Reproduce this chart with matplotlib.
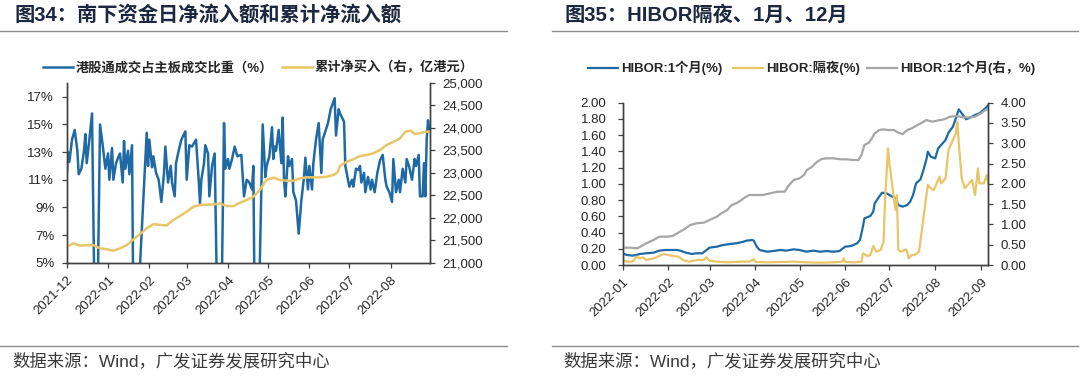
import matplotlib
matplotlib.use("Agg")
import matplotlib.pyplot as plt
import matplotlib.dates as mdates
from matplotlib.lines import Line2D
from matplotlib.ticker import FuncFormatter, MultipleLocator
import pandas as pd

plt.rcParams['font.family'] = ['Liberation Sans', 'Noto Sans CJK SC', 'DejaVu Sans']

# ---------------- 图34 data (days after 2021-12-01) ----------------
sb_day = [0, 1, 2, 4, 6, 8, 9, 11, 13, 14, 15, 17, 19, 21, 23, 25, 27, 29, 31, 32,
          34, 35, 37, 39, 40, 42, 43, 44, 46, 47, 49, 50, 53, 60, 61, 62, 64, 65, 67, 69,
          71, 73, 74, 76, 78, 79, 81, 82, 84, 86, 89, 90, 92, 94, 97, 99, 100, 101, 103, 104,
          106, 107, 109, 111, 113, 116, 118, 119, 121, 122, 124, 126, 128, 131, 133, 135, 137, 139, 140, 141,
          144, 147, 149, 150, 152, 154, 155, 156, 157, 159, 161, 162, 163, 164, 166, 167, 169, 170, 172, 174,
          176, 178, 179, 181, 182, 184, 185, 187, 189, 191, 192, 194, 196, 198, 201, 202, 204, 205, 208, 209,
          210, 212, 214, 215, 217, 219, 220, 221, 223, 224, 226, 228, 229, 231, 233, 235, 237, 239, 240, 242,
          244, 245, 247, 249, 250, 252, 254, 255, 257, 259, 261, 262, 264, 265, 267, 268, 269, 270, 271, 272]
sb_share = [11.1, 13.0, 12.3, 13.9, 14.6, 13.1, 11.4, 11.8, 13.1, 14.3, 12.2, 13.9, 15.8, 1.0, 1.0, 15.0, 13.5, 11.8, 12.9, 11.0,
            13.3, 11.0, 12.2, 12.7, 12.9, 10.8, 13.8, 11.8, 13.1, 11.4, 13.5, 1.0, 1.0, 14.4, 12.0, 13.9, 11.9, 12.7, 11.5, 11.0,
            9.4, 11.5, 13.4, 10.8, 12.0, 10.8, 9.8, 12.2, 13.1, 13.9, 14.5, 11.0, 13.5, 13.4, 13.9, 11.0, 9.3, 11.0, 12.2, 13.5,
            12.9, 9.8, 12.0, 12.9, 1.0, 1.0, 15.1, 11.8, 12.5, 11.8, 12.5, 13.4, 12.7, 12.8, 9.8, 11.0, 10.8, 10.3, 12.0, 1.0,
            1.0, 15.0, 11.2, 12.0, 12.7, 14.8, 12.5, 13.4, 13.1, 14.6, 12.2, 15.5, 11.0, 9.8, 12.7, 12.0, 12.5, 10.1, 9.5, 7.1,
            9.5, 11.2, 12.6, 10.3, 12.0, 10.3, 12.2, 13.9, 15.1, 11.5, 13.9, 14.5, 15.1, 16.1, 16.9, 14.2, 16.1, 15.8, 15.2, 12.0,
            11.5, 10.5, 11.0, 10.5, 11.8, 11.7, 12.0, 10.8, 11.5, 10.1, 11.2, 10.3, 11.0, 10.1, 11.5, 12.4, 12.8, 11.0, 10.5, 10.1,
            9.4, 12.5, 10.1, 11.0, 10.1, 11.8, 10.8, 12.5, 11.9, 11.0, 12.5, 12.0, 12.8, 9.8, 9.8, 12.2, 9.8, 13.9, 15.3, 14.6]

cum_day = [0, 5, 10, 15, 20, 25, 30, 35, 40, 45, 50, 55, 60, 65, 70, 75, 80, 85, 90, 95,
           100, 105, 110, 115, 120, 125, 130, 135, 140, 145, 148, 150, 155, 160, 165, 170, 175, 180, 185, 190,
           195, 200, 203, 205, 210, 215, 220, 225, 230, 235, 240, 245, 250, 254, 258, 261, 265, 269, 272]
cum_buy = [21356, 21432, 21380, 21390, 21390, 21320, 21300, 21267, 21320, 21390, 21520, 21640, 21765, 21860, 21840, 21830, 21950, 22040, 22135, 22245,
           22285, 22290, 22300, 22320, 22260, 22260, 22335, 22395, 22470, 22620, 22767, 22840, 22892, 22840, 22825, 22825, 22878, 22900, 22900, 22900,
           22915, 22952, 23003, 23153, 23248, 23300, 23375, 23397, 23435, 23509, 23620, 23694, 23769, 23917, 23939, 23865, 23880, 23917, 23917]

# ---------------- 图35 data (days after 2022-01-01) ----------------
h1m_day = [0, 3, 7, 12, 16, 21, 25, 29, 32, 37, 39, 43, 47, 50, 54, 57, 59, 64, 68, 73,
           77, 82, 84, 88, 89, 91, 93, 98, 102, 107, 111, 116, 120, 125, 129, 134, 138, 143, 147, 151,
           155, 159, 161, 163, 164, 168, 170, 171, 174, 176, 179, 183, 185, 187, 190, 193, 195, 197, 199, 202,
           204, 206, 207, 209, 212, 214, 216, 219, 221, 224, 226, 228, 230, 233, 236, 239, 242, 246, 248]
h1m = [0.144, 0.123, 0.115, 0.136, 0.144, 0.152, 0.177, 0.185, 0.185, 0.185, 0.177, 0.152, 0.136, 0.144, 0.144, 0.185, 0.214, 0.226, 0.246, 0.259,
       0.267, 0.287, 0.30, 0.308, 0.30, 0.226, 0.185, 0.164, 0.172, 0.185, 0.177, 0.193, 0.185, 0.164, 0.177, 0.164, 0.172, 0.164, 0.172, 0.226,
       0.234, 0.267, 0.308, 0.472, 0.575, 0.604, 0.657, 0.76, 0.842, 0.891, 0.883, 0.842, 0.821, 0.739, 0.719, 0.739, 0.78, 0.862, 1.006, 1.055,
       1.17, 1.30, 1.396, 1.335, 1.314, 1.437, 1.478, 1.54, 1.63, 1.704, 1.807, 1.918, 1.869, 1.795, 1.82, 1.848, 1.869, 1.93, 1.97]

hon_day = [0, 3, 6, 8, 9, 12, 14, 16, 21, 24, 28, 31, 34, 38, 41, 45, 48, 51, 55, 57,
           59, 64, 71, 80, 86, 89, 90, 98, 107, 116, 125, 134, 143, 149, 150, 151, 157, 162, 163, 166,
           168, 170, 172, 175, 177, 178, 180, 181, 183, 185, 186, 187, 189, 192, 193, 194, 196, 198, 201, 203,
           205, 207, 209, 211, 213, 215, 216, 219, 221, 223, 226, 227, 228, 230, 232, 235, 237, 239, 241, 242,
           245, 247, 248]
hon = [0.062, 0.041, 0.041, 0.062, 0.103, 0.082, 0.094, 0.062, 0.082, 0.103, 0.136, 0.123, 0.111, 0.103, 0.062, 0.041, 0.053, 0.062, 0.062, 0.094,
       0.053, 0.041, 0.033, 0.041, 0.041, 0.07, 0.037, 0.033, 0.037, 0.041, 0.033, 0.029, 0.033, 0.041, 0.082, 0.037, 0.033, 0.041, 0.144, 0.111,
       0.123, 0.234, 0.164, 0.185, 0.287, 0.80, 1.437, 1.25, 0.965, 0.68, 0.862, 0.185, 0.164, 0.193, 0.164, 0.082, 0.123, 0.123, 0.164, 0.431,
       0.719, 0.986, 0.945, 0.924, 1.006, 1.088, 1.006, 1.068, 1.417, 1.499, 1.622, 1.766, 1.499, 1.068, 0.945, 1.006, 1.047, 0.862, 1.19, 1.006,
       1.006, 1.109, 1.006]

h12_day = [0, 5, 10, 12, 16, 21, 25, 30, 34, 37, 41, 46, 50, 55, 59, 64, 67, 71, 74, 77,
           80, 83, 86, 90, 95, 100, 105, 110, 112, 116, 120, 123, 125, 128, 132, 135, 138, 143, 148, 152,
           157, 160, 162, 164, 167, 169, 171, 174, 177, 180, 184, 187, 190, 193, 196, 200, 203, 206, 210, 213,
           218, 222, 227, 231, 236, 239, 243, 246, 248]
h12 = [0.427, 0.427, 0.41, 0.45, 0.534, 0.616, 0.698, 0.698, 0.715, 0.78, 0.862, 0.986, 1.027, 1.043, 1.109, 1.191, 1.273, 1.355, 1.478, 1.52,
       1.585, 1.667, 1.725, 1.725, 1.725, 1.766, 1.807, 1.807, 1.93, 2.094, 2.136, 2.218, 2.341, 2.407, 2.546, 2.612, 2.628, 2.628, 2.604, 2.604,
       2.587, 2.587, 2.71, 2.957, 3.014, 3.121, 3.244, 3.326, 3.343, 3.326, 3.326, 3.26, 3.228, 3.326, 3.367, 3.45, 3.507, 3.573, 3.532, 3.556,
       3.589, 3.655, 3.671, 3.638, 3.638, 3.655, 3.737, 3.82, 3.836]

BLUE = '#1f6aa5'
YELLOW = '#e8c567'
GRAY = '#a6a6a6'
SPINE = '#404040'
TXT = '#262626'

W, H = 1080, 381
fig = plt.figure(figsize=(W / 100, H / 100), dpi=100)


def fx(px):
    return px / W


def fy(py):
    return 1 - py / H


def to_dates(start, days):
    return pd.Timestamp(start) + pd.to_timedelta(days, unit='D')


def style_axes(ax, ax2, left_pad=5.5):
    for a in (ax, ax2):
        a.spines['top'].set_visible(False)
        for s in ('left', 'right', 'bottom'):
            a.spines[s].set_color(SPINE)
            a.spines[s].set_linewidth(1.0)
        a.tick_params(direction='out', length=3.5, width=0.9, color=SPINE,
                      labelsize=9.5, labelcolor=TXT)
    ax.tick_params(axis='x', pad=4.5)
    ax.tick_params(axis='y', pad=left_pad)
    ax2.tick_params(axis='y', pad=5.5)
    ax.xaxis.set_major_locator(mdates.MonthLocator())
    ax.xaxis.set_major_formatter(mdates.DateFormatter('%Y-%m'))
    for lab in ax.get_xticklabels():
        lab.set_rotation(45)
        lab.set_ha('right')
        lab.set_rotation_mode('anchor')


def legend_entry(handle, label, x_px, y_px):
    # one legend entry, left edge of the handle pinned at x_px
    fig.legend([handle], [label], loc='center left',
               bbox_to_anchor=(fx(x_px), fy(y_px)), frameon=False,
               borderpad=0, borderaxespad=0,
               prop={'size': 9.5, 'weight': 'bold'}, handlelength=2.3,
               handletextpad=0.2, labelcolor=TXT)


# ---------------- left panel ----------------
axL = fig.add_axes([fx(66.7), fy(262.7), fx(430 - 66.7), (262.7 - 83) / H])
axL2 = axL.twinx()
l1, = axL.plot(to_dates('2021-12-01', sb_day), sb_share, color=BLUE, lw=1.8)
l2, = axL2.plot(to_dates('2021-12-01', cum_day), cum_buy, color=YELLOW, lw=1.8)
axL.set_xlim(pd.Timestamp('2021-12-01'), pd.Timestamp('2022-08-30 12:00'))
axL.set_ylim(5, 18)
axL.set_yticks([5, 7, 9, 11, 13, 15, 17])
axL.yaxis.set_major_formatter(FuncFormatter(lambda v, p: f'{v:.0f}%'))
axL2.set_ylim(21000, 25000)
axL2.yaxis.set_major_locator(MultipleLocator(500))
axL2.yaxis.set_major_formatter(FuncFormatter(lambda v, p: f'{v:,.0f}'))
style_axes(axL, axL2, left_pad=5.5)

legend_entry(l1, '港股通成交占主板成交比重（%）', 43, 68)
legend_entry(l2, '累计净买入（右，亿港元）', 282, 68)

# ---------------- right panel ----------------
axR = fig.add_axes([fx(622.5), fy(265), fx(988.3 - 622.5), (265 - 102.7) / H])
axR2 = axR.twinx()
r1, = axR.plot(to_dates('2022-01-01', h1m_day), h1m, color=BLUE, lw=1.6)
r2, = axR.plot(to_dates('2022-01-01', hon_day), hon, color=YELLOW, lw=1.6)
r3, = axR2.plot(to_dates('2022-01-01', h12_day), h12, color=GRAY, lw=1.6)
axR.set_xlim(pd.Timestamp('2022-01-01'), pd.Timestamp('2022-09-06'))
axR.set_ylim(0, 2.0)
axR.yaxis.set_major_locator(MultipleLocator(0.2))
axR.yaxis.set_major_formatter(FuncFormatter(lambda v, p: f'{v:.2f}'))
axR2.set_ylim(0, 4.0)
axR2.yaxis.set_major_locator(MultipleLocator(0.5))
axR2.yaxis.set_major_formatter(FuncFormatter(lambda v, p: f'{v:.2f}'))
style_axes(axR, axR2, left_pad=8)

legend_entry(r1, 'HIBOR:1个月(%)', 588, 68)
legend_entry(r2, 'HIBOR:隔夜(%)', 733, 68)
legend_entry(r3, 'HIBOR:12个月(右，%)', 867, 68)

# ---------------- titles, rules, sources ----------------
TITLE = '#1c2840'
fig.text(fx(14), fy(15), '图34：南下资金日净流入额和累计净流入额', fontsize=14.6,
         fontweight='bold', color=TITLE, ha='left', va='center')
fig.text(fx(565), fy(15), '图35：HIBOR隔夜、1月、12月', fontsize=14.6,
         fontweight='bold', color=TITLE, ha='left', va='center')

for x0, x1 in ((0, 507), (552, 1078)):
    fig.add_artist(Line2D([fx(x0), fx(x1)], [fy(31), fy(31)], color='#8c8c8c', lw=1.0))
    fig.add_artist(Line2D([fx(x0), fx(x1)], [fy(346), fy(346)], color='#8c8c8c', lw=1.0))

fig.text(fx(12), fy(361), '数据来源：Wind，广发证券发展研究中心', fontsize=12.5,
         color='#3a3a3a', ha='left', va='center')
fig.text(fx(563), fy(361), '数据来源：Wind，广发证券发展研究中心', fontsize=12.5,
         color='#3a3a3a', ha='left', va='center')

fig.savefig('out.png', dpi=100, facecolor='white')
